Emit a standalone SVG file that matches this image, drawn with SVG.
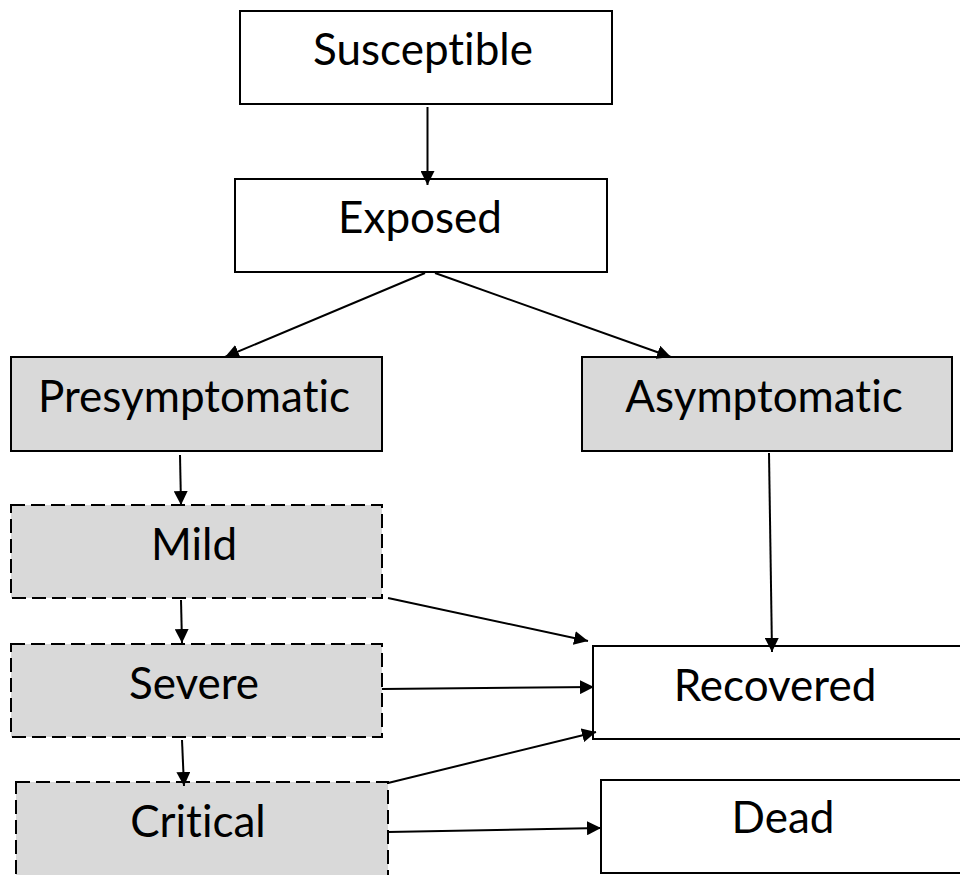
<svg xmlns="http://www.w3.org/2000/svg" width="960" height="875" viewBox="0 0 960 875">
<style>
.box{fill:#ffffff;stroke:#000;stroke-width:2}
.grey{fill:#d9d9d9;stroke:#000;stroke-width:2}
.dash{stroke-dasharray:14 6}
.lbl{font-family:Lato,"Open Sans","Liberation Sans",sans-serif;font-size:44px;fill:#000;text-anchor:middle;font-variant-ligatures:none}
.con{stroke:#000;stroke-width:2;fill:none;marker-end:url(#ah)}
</style>
<defs>
<marker id="ah" viewBox="0 0 10 10" refX="10" refY="5" markerWidth="7" markerHeight="7" orient="auto" markerUnits="strokeWidth">
<path d="M0,0 L10,5 L0,10 z" fill="#000"/>
</marker>
</defs>
<rect width="960" height="875" fill="#fff"/>
<g id="susceptible"><rect class="box" x="240" y="11" width="372" height="93"/><text class="lbl" x="423" y="65">Susceptible</text></g>
<g id="exposed"><rect class="box" x="235" y="179" width="372" height="93"/><text class="lbl" x="420" y="233">Exposed</text></g>
<g id="presymptomatic"><rect class="grey" x="11" y="357" width="371" height="94"/><text class="lbl" x="194" y="412">Presymptomatic</text></g>
<g id="asymptomatic"><rect class="grey" x="582" y="357" width="370" height="94"/><text class="lbl" x="764" y="412">Asymptomatic</text></g>
<g id="mild"><rect class="grey dash" x="11" y="505" width="371" height="93"/><text class="lbl" x="194" y="560">Mild</text></g>
<g id="severe"><rect class="grey dash" x="11" y="644" width="371" height="93"/><text class="lbl" x="194" y="699">Severe</text></g>
<g id="critical"><rect class="grey dash" x="16" y="782" width="372" height="94"/><text class="lbl" x="198" y="837">Critical</text></g>
<g id="recovered"><rect class="box" x="593" y="646" width="380" height="93"/><text class="lbl" x="775" y="701">Recovered</text></g>
<g id="dead"><rect class="box" x="601" y="780" width="380" height="93"/><text class="lbl" x="783" y="833">Dead</text></g>
<g id="connectors">
<line class="con" x1="427.5" y1="107" x2="427.5" y2="185"/>
<line class="con" x1="425" y1="273" x2="225" y2="357"/>
<line class="con" x1="435" y1="273" x2="671" y2="357"/>
<line class="con" x1="180" y1="455" x2="181" y2="505"/>
<line class="con" x1="181" y1="600" x2="182" y2="643"/>
<line class="con" x1="182" y1="740" x2="184" y2="786"/>
<line class="con" x1="769" y1="453" x2="772" y2="652"/>
<line class="con" x1="388" y1="598" x2="588" y2="641"/>
<line class="con" x1="382" y1="689" x2="594" y2="687"/>
<line class="con" x1="388" y1="783" x2="596" y2="732"/>
<line class="con" x1="388" y1="832" x2="601" y2="828"/>
</g>
</svg>
